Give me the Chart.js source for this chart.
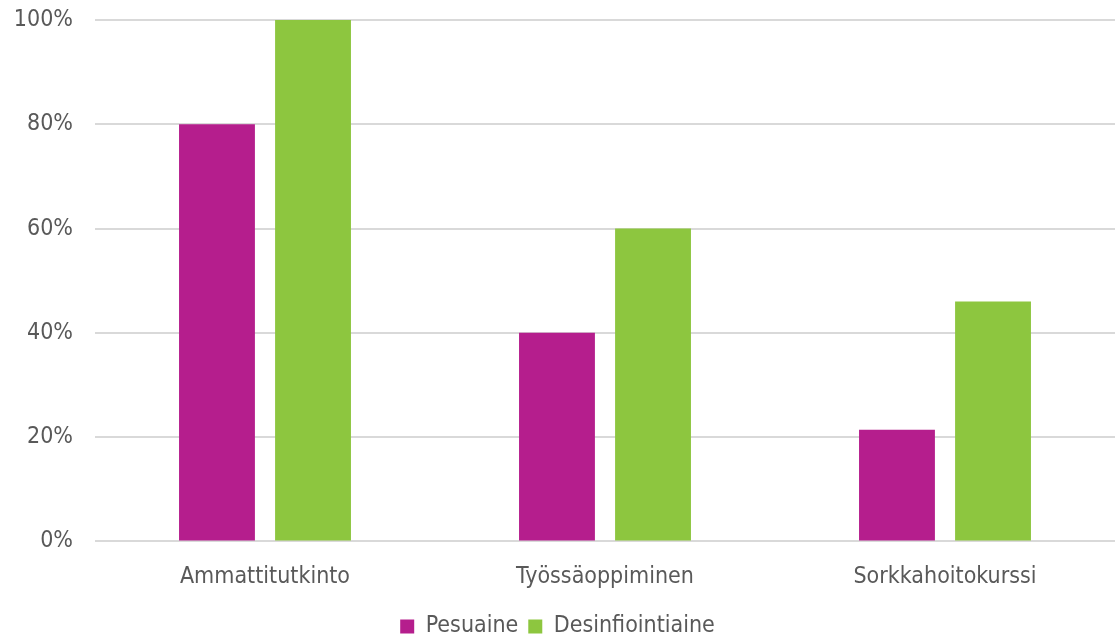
<!DOCTYPE html>
<html>
<head>
<meta charset="utf-8">
<script src="https://cdn.jsdelivr.net/npm/chart.js@4"></script>
<style>
  html, body { margin: 0; padding: 0; background: #fff; }
  #wrap { width: 1115px; height: 637px; }
</style>
</head>
<body>
<div id="wrap"><canvas id="myChart"></canvas></div>
<script>
// categories on the x axis
const categories = ["Ammattitutkinto", "Työssäoppiminen", "Sorkkahoitokurssi"];

// series values in percent
const pesuaine = [80, 40, 21.4];
const desinfiointiaine = [100, 60, 46];

// y axis ticks
const yTicks = [0, 20, 40, 60, 80, 100];

const font = "'DejaVu Sans Condensed', 'DejaVu Sans', sans-serif";

const ctx = document.getElementById("myChart").getContext("2d");
new Chart(ctx, {
  type: "bar",
  data: {
    labels: categories,
    datasets: [
      {
        label: "Pesuaine",
        backgroundColor: "#b51e8d",
        data: pesuaine,
      },
      {
        label: "Desinfiointiaine",
        backgroundColor: "#8dc63f",
        data: desinfiointiaine,
      },
    ],
  },
  options: {
    responsive: true,
    maintainAspectRatio: false,
    animation: false,
    layout: { padding: { top: 20, right: 0, left: 0, bottom: -11 } },
    datasets: {
      bar: { categoryPercentage: 0.565, barPercentage: 0.79 },
    },
    plugins: {
      tooltip: { enabled: false },
      legend: {
        position: "bottom",
        labels: {
          boxWidth: 14,
          boxHeight: 14,
          padding: 10,
          color: "#595959",
          font: { family: font, size: 23 },
        },
      },
    },
    scales: {
      x: {
        grid: { display: false },
        border: { display: false },
        ticks: {
          color: "#595959",
          padding: 14,
          font: { family: font, size: 23 },
        },
      },
      y: {
        min: 0,
        max: 100,
        afterFit: (axis) => {
          axis.width = 95;
          axis.paddingTop = 0;
          axis.paddingBottom = 0;
        },
        afterBuildTicks: (axis) => {
          axis.ticks = yTicks.map((v) => ({ value: v }));
        },
        grid: { color: "#d9d9d9", lineWidth: 2, drawTicks: false },
        border: { display: false },
        ticks: {
          color: "#595959",
          padding: 22,
          font: { family: font, size: 23 },
          callback: (v) => v + "%",
        },
      },
    },
  },
});
</script>
</body>
</html>
